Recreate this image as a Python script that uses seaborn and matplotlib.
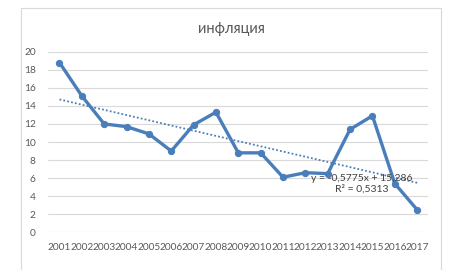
import numpy as np
import pandas as pd
import matplotlib
matplotlib.use("Agg")
import matplotlib.pyplot as plt
import seaborn as sns
from matplotlib.lines import Line2D

years = ["2001", "2002", "2003", "2004", "2005", "2006", "2007", "2008", "2009",
         "2010", "2011", "2012", "2013", "2014", "2015", "2016", "2017"]
inflation = [18.8, 15.1, 12.0, 11.7, 10.9, 9.0, 11.9, 13.3, 8.8,
             8.8, 6.1, 6.6, 6.5, 11.4, 12.9, 5.4, 2.5]
y_ticks = [0, 2, 4, 6, 8, 10, 12, 14, 16, 18, 20]
title = "инфляция"
trend_label = "y = -0,5775x + 15,286\nR² = 0,5313"

sns.set_theme(style="white")
plt.rcParams["font.family"] = ["Lato", "DejaVu Sans"]

df = pd.DataFrame({"year": years, "value": inflation})
df["idx"] = np.arange(len(years))

fig = plt.figure(figsize=(4.68, 2.70), dpi=100)
ax = fig.add_axes([0.1032, 0.1396, 0.812, 0.6689])

blue = "#4a7ebb"
grey_txt = "#595959"

# chart border (left, top, right)
for xs, ys in [([21/468, 21/468], [0, 1 - 8/270]),
               ([21/468, 441/468], [1 - 8/270, 1 - 8/270]),
               ([441/468, 441/468], [1 - 8/270, 0])]:
    fig.add_artist(Line2D(xs, ys, color="#d9d9d9", lw=0.8, transform=fig.transFigure))

for t in y_ticks:
    ax.axhline(t, color="#d9d9d9", lw=0.8, zorder=0)

sns.lineplot(data=df, x="idx", y="value", ax=ax, color=blue, lw=2.4,
             marker="o", markersize=4.5, markeredgecolor=blue, zorder=3)

# linear trend (Excel x = 1..n)
xx = np.arange(1, len(years) + 1)
k, b = np.polyfit(xx, inflation, 1)
trend = k * xx + b
ax.plot(df["idx"], trend, color=blue, lw=1.3, ls=(0, (1, 1.2)), zorder=2)

ax.text(13.5, 5.35, trend_label, ha="center", va="center", fontsize=7.5,
        color="#404040", linespacing=1.2, zorder=4)

ax.set_xlim(-0.5, len(years) - 0.5)
ax.set_ylim(0, 20)
ax.set_xticks(df["idx"])
ax.set_xticklabels(years)
ax.set_yticks(y_ticks)
ax.tick_params(axis="both", length=0, labelsize=7.3, labelcolor=grey_txt)
ax.tick_params(axis="y", pad=9)
ax.tick_params(axis="x", pad=8)
ax.set_xlabel("")
ax.set_ylabel("")
for s in ax.spines.values():
    s.set_visible(False)

fig.text(231/468, 1 - 29/270, title, ha="center", va="center",
         fontsize=10.5, color=grey_txt)

fig.savefig("out.png", dpi=100)
